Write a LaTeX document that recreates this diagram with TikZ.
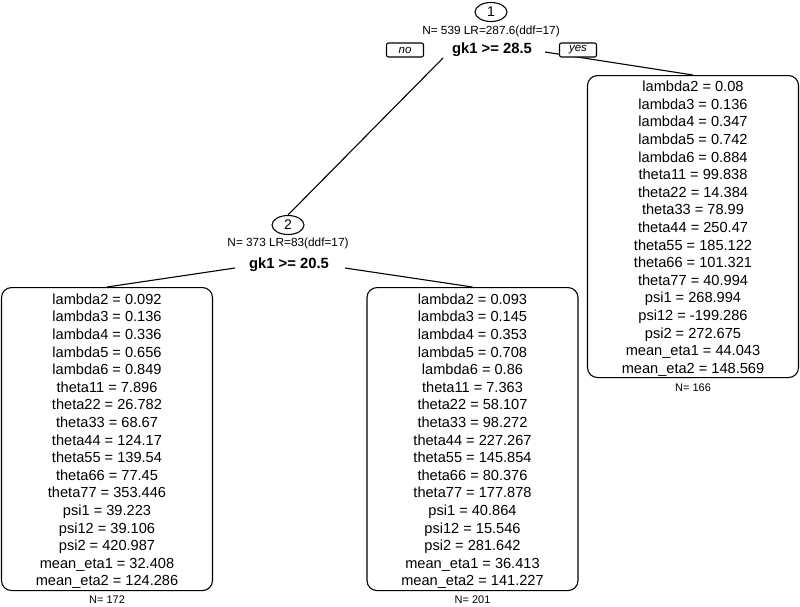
\documentclass[tikz,border=0pt]{standalone}
\usepackage{fontspec}
\setmainfont{Liberation Sans}
\usetikzlibrary{positioning, shapes.geometric}

\newcommand{\leafstrut}{\rule{0pt}{14.8pt}}

\begin{document}
\begin{tikzpicture}[x=1pt, y=-1pt, line width=1.1pt,
  idnode/.style={ellipse, draw, minimum width=32pt, minimum height=19pt, inner sep=0pt, font=\fontsize{14}{16}\selectfont},
  info/.style={inner sep=0pt, font=\fontsize{11.8}{14}\selectfont},
  split/.style={inner sep=0pt, font=\bfseries\fontsize{14.8}{17}\selectfont},
  edgelab/.style={draw, fill=white, rounded corners=2pt, minimum width=37pt, minimum height=14pt, inner sep=0pt, font=\itshape\fontsize{11.5}{13}\selectfont},
  leaf/.style={draw, rounded corners=10pt, align=center, minimum width=211pt, minimum height=303pt, inner sep=0pt, font=\fontsize{14.6}{17.6}\selectfont},
  count/.style={inner sep=0pt, font=\fontsize{11}{13}\selectfont}]
  \path[use as bounding box] (0,0) rectangle (800,606);

  % root split
  \node[idnode] (id1) at (491,12) {1};
  \node[info] (stat1) at (491,31) {N= 539 LR=287.6(ddf=17)};
  \node[split] (split1) at (492,50) {gk1 >= 28.5};

  % inner split
  \node[idnode] (id2) at (288,225) {2};
  \node[info] (stat2) at (288,243) {N= 373 LR=83(ddf=17)};
  \node[split] (split2) at (289,265) {gk1 >= 20.5};

  % leaves
  \node[leaf, anchor=north] (leaf3) at (107,287) {\leafstrut lambda2 = 0.092\\lambda3 = 0.136\\lambda4 = 0.336\\lambda5 = 0.656\\lambda6 = 0.849\\theta11 = 7.896\\theta22 = 26.782\\theta33 = 68.67\\theta44 = 124.17\\theta55 = 139.54\\theta66 = 77.45\\theta77 = 353.446\\psi1 = 39.223\\psi12 = 39.106\\psi2 = 420.987\\mean\_eta1 = 32.408\\mean\_eta2 = 124.286};
  \node[count, below=4pt of leaf3] (n3) {N= 172};

  \node[leaf, anchor=north] (leaf4) at (472.5,287) {\leafstrut lambda2 = 0.093\\lambda3 = 0.145\\lambda4 = 0.353\\lambda5 = 0.708\\lambda6 = 0.86\\theta11 = 7.363\\theta22 = 58.107\\theta33 = 98.272\\theta44 = 227.267\\theta55 = 145.854\\theta66 = 80.376\\theta77 = 177.878\\psi1 = 40.864\\psi12 = 15.546\\psi2 = 281.642\\mean\_eta1 = 36.413\\mean\_eta2 = 141.227};
  \node[count, below=4pt of leaf4] (n4) {N= 201};

  \node[leaf, anchor=north, minimum height=302pt] (leaf5) at (693,75) {\leafstrut lambda2 = 0.08\\lambda3 = 0.136\\lambda4 = 0.347\\lambda5 = 0.742\\lambda6 = 0.884\\theta11 = 99.838\\theta22 = 14.384\\theta33 = 78.99\\theta44 = 250.47\\theta55 = 185.122\\theta66 = 101.321\\theta77 = 40.994\\psi1 = 268.994\\psi12 = -199.286\\psi2 = 272.675\\mean\_eta1 = 44.043\\mean\_eta2 = 148.569};
  \node[count, below=5pt of leaf5] (n5) {N= 166};

  % branches
  \coordinate (l1) at (443,58);
  \coordinate (r1) at (545,52);
  \coordinate (l2) at (235,268);
  \coordinate (r2) at (345,268);
  \draw (l1) -- (id2.north);
  \draw (r1) -- (leaf5.north);
  \draw (l2) -- (leaf3.north);
  \draw (r2) -- (leaf4.north);

  \node[edgelab] (no1) at (405,50) {no};
  \node[edgelab] (yes1) at (578,50) {yes};
\end{tikzpicture}
\end{document}
